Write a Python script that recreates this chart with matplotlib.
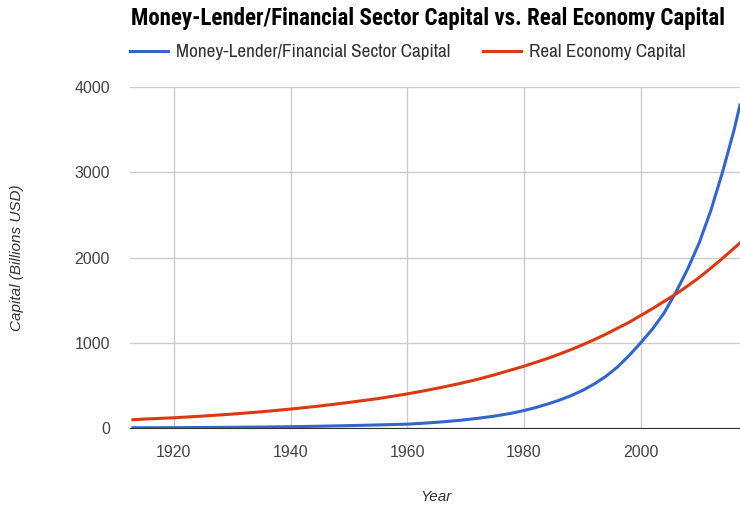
import numpy as np
import matplotlib
matplotlib.use('Agg')
import matplotlib.pyplot as plt

# Values (billions USD)
years = [1913, 1915, 1920, 1925, 1930, 1935, 1940, 1945, 1950, 1955, 1960, 1963,
         1966, 1969, 1972, 1975, 1978, 1980, 1982, 1984, 1986, 1988, 1990, 1992,
         1994, 1996, 1998, 2000, 2002, 2004, 2006, 2008, 2010, 2012, 2014, 2016,
         2017]
financial = [3, 3, 4, 6, 8, 11, 15, 21, 28, 36, 45, 57,
             72, 90, 113, 140, 175, 205, 240, 280, 325, 378, 440, 515,
             605, 715, 850, 1000, 1160, 1350, 1590, 1860, 2170, 2550, 3000, 3500,
             3790]
real_economy = [97, 105, 120, 140, 163, 190, 222, 258, 300, 345, 400, 438,
                478, 522, 570, 625, 685, 725, 770, 815, 865, 918, 975, 1035,
                1100, 1170, 1240, 1320, 1400, 1485, 1570, 1665, 1765, 1875, 1990, 2110,
                2170]

xticks = [1920, 1940, 1960, 1980, 2000]
yticks = [0, 1000, 2000, 3000, 4000]

title = 'Money-Lender/Financial Sector Capital vs. Real Economy Capital'
label_fin = 'Money-Lender/Financial Sector Capital'
label_real = 'Real Economy Capital'

title_font = ['Roboto Condensed', 'Asap Condensed', 'Liberation Sans', 'DejaVu Sans']
legend_font = ['Archivo Narrow', 'Liberation Sans', 'DejaVu Sans']
plt.rcParams['font.family'] = ['Liberation Sans', 'DejaVu Sans']

fig = plt.figure(figsize=(7.4, 5.07), dpi=100)
ax = fig.add_axes([130/740, 1 - 428/507, 1 - 130/740, (428 - 87)/507])

ax.plot(years, financial, color='#3366cc', lw=2.2, label=label_fin, zorder=3)
ax.plot(years, real_economy, color='#dc3912', lw=2.2, label=label_real, zorder=3)

ax.set_xlim(1912.5, 2017)
ax.set_ylim(0, 4000)
ax.set_xticks(xticks)
ax.set_yticks(yticks)
ax.grid(True, color='#cccccc', lw=1)
ax.set_axisbelow(True)
for s in ['top', 'right', 'left']:
    ax.spines[s].set_visible(False)
ax.spines['bottom'].set_color('#333333')
ax.tick_params(length=0, labelsize=11.5, colors='#444444')
ax.tick_params(axis='x', pad=12)
ax.tick_params(axis='y', pad=14.5)

fig.text(131/740, 1 - 19/507, title, fontsize=16.5, fontweight='bold',
         family=title_font, ha='left', va='center', color='black')

fig.text(436/740, 1 - 497/507, 'Year', fontsize=11, style='italic',
         color='#333333', ha='center', va='center')
fig.text(17/740, 1 - 258/507, 'Capital (Billions USD)', fontsize=11, style='italic',
         color='#333333', ha='center', va='center', rotation=90)

leg = ax.legend(loc='center left', bbox_to_anchor=(0.0, 1 + (87 - 52)/341.0),
                ncol=2, frameon=False, handlelength=2.0, handletextpad=0.42,
                columnspacing=1.67, borderaxespad=0, borderpad=0,
                prop={'size': 13.8, 'family': legend_font})
for t in leg.get_texts():
    t.set_color('#333333')

fig.savefig('out.png', dpi=100)
